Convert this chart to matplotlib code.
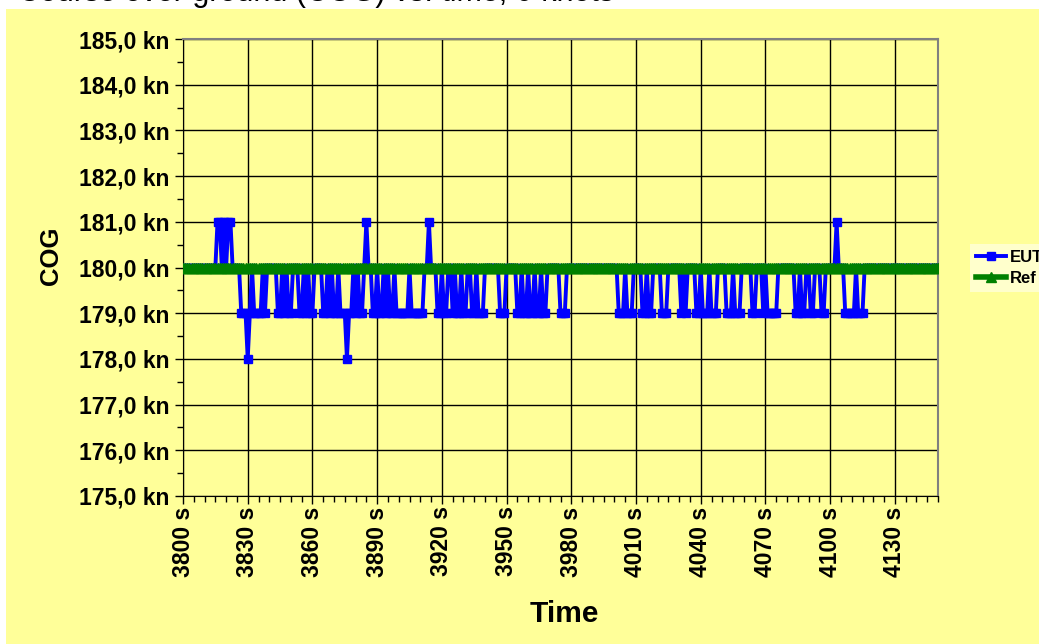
import numpy as np
import matplotlib
matplotlib.use("Agg")
import matplotlib.pyplot as plt
from matplotlib.patches import Rectangle
from matplotlib.ticker import MultipleLocator, FixedLocator, FixedFormatter

plt.rcParams['font.family'] = ['Liberation Sans', 'DejaVu Sans']

# Course over ground, one sample per second from 3800 s
time_start = 3800
eut_cog = [
    180, 180, 180, 180, 180, 180, 180, 180, 180, 180, 180, 180, 180, 180, 180, 180, 181, 181, 180, 181, 180, 181, 181, 180, 180,
    180, 180, 179, 179, 179, 178, 179, 180, 179, 179, 179, 179, 180, 179, 180, 180, 180, 180, 180, 179, 179, 180, 179, 180, 179,
    179, 180, 180, 180, 179, 179, 180, 179, 180, 179, 179, 180, 180, 180, 180, 179, 179, 180, 179, 180, 179, 179, 180, 179, 179,
    179, 178, 179, 179, 180, 179, 180, 179, 179, 180, 181, 180, 180, 179, 179, 180, 179, 179, 180, 179, 180, 179, 179, 180, 179,
    179, 179, 179, 179, 179, 180, 179, 179, 179, 179, 179, 179, 180, 180, 181, 180, 180, 180, 179, 179, 180, 179, 179, 180, 180,
    179, 180, 179, 179, 180, 179, 179, 180, 180, 179, 179, 180, 179, 179, 179, 180, 180, 180, 180, 180, 180, 180, 179, 179, 179,
    180, 180, 180, 180, 180, 179, 179, 180, 179, 179, 180, 179, 179, 180, 179, 179, 180, 179, 179, 180, 180, 180, 180, 180, 180,
    179, 179, 179, 180, 180, 180, 180, 180, 180, 180, 180, 180, 180, 180, 180, 180, 180, 180, 180, 180, 180, 180, 180, 180, 180,
    180, 180, 179, 179, 179, 180, 179, 179, 179, 180, 180, 180, 180, 179, 179, 180, 179, 179, 180, 180, 180, 180, 179, 179, 179,
    180, 180, 180, 180, 180, 180, 179, 180, 179, 180, 180, 180, 180, 179, 179, 180, 179, 179, 179, 180, 179, 179, 179, 180, 180,
    180, 180, 179, 179, 179, 180, 179, 179, 179, 180, 180, 180, 180, 180, 179, 179, 180, 180, 180, 179, 180, 179, 179, 179, 179,
    179, 180, 180, 180, 180, 180, 180, 180, 180, 179, 179, 180, 179, 179, 180, 180, 179, 179, 180, 180, 180, 179, 179, 180, 180,
    180, 180, 180, 181, 180, 180, 180, 179, 179, 179, 179, 179, 180, 179, 179, 179, 180, 180, 180, 180, 180, 180, 180, 180, 180,
    180, 180, 180, 180, 180, 180, 180, 180, 180, 180, 180, 180, 180, 180, 180, 180, 180, 180, 180, 180, 180, 180, 180, 180, 180,
    180,
]
ref_value = 180.0

y_ticks = [175, 176, 177, 178, 179, 180, 181, 182, 183, 184, 185]
y_labels = ["175,0 kn", "176,0 kn", "177,0 kn", "178,0 kn", "179,0 kn", "180,0 kn",
            "181,0 kn", "182,0 kn", "183,0 kn", "184,0 kn", "185,0 kn"]
x_ticks = [3800, 3830, 3860, 3890, 3920, 3950, 3980, 4010, 4040, 4070, 4100, 4130]
x_labels = ["%d s" % t for t in x_ticks]

times = time_start + np.arange(len(eut_cog))
ref_cog = np.full(len(eut_cog), ref_value)

W, H = 1039, 644
fig = plt.figure(figsize=(W / 100, H / 100), dpi=100)
fig.patch.set_facecolor("white")

yellow = "#FFFF99"
panel = Rectangle((6 / W, 0), 1 - 6 / W, 1 - 9 / H, transform=fig.transFigure,
                  facecolor=yellow, edgecolor="none", zorder=-10)
fig.patches.append(panel)

# title is cut off by the top edge in the original
fig.text(18 / W, 1 - 1.5 / H, "Course over ground (COG) vs. time, 0 knots", fontsize=22,
         ha="left", va="baseline", color="black", zorder=-5)

ax = fig.add_axes([183 / W, 1 - 496 / H, (938 - 183) / W, (496 - 39) / H])
ax.set_facecolor(yellow)

ax.plot(times, eut_cog, color="#0000FF", lw=2.8, marker="s", ms=5.5, label="EUT", zorder=3)
ax.plot(times, ref_cog, color="#008000", lw=4, marker="^", ms=7, label="Ref", zorder=4)

ax.set_xlim(3800, 4150)
ax.set_ylim(175, 185)

ax.xaxis.set_major_locator(FixedLocator(x_ticks))
ax.xaxis.set_major_formatter(FixedFormatter(x_labels))
ax.xaxis.set_minor_locator(MultipleLocator(5))
ax.yaxis.set_major_locator(FixedLocator(y_ticks))
ax.yaxis.set_major_formatter(FixedFormatter(y_labels))
ax.yaxis.set_minor_locator(MultipleLocator(0.5))

ax.grid(True, which="major", color="black", lw=1)
ax.set_axisbelow(True)

ax.tick_params(axis="both", which="major", direction="out", length=6, width=1, labelsize=16.5)
ax.tick_params(axis="both", which="minor", direction="out", length=4, width=1)
ax.tick_params(axis="x", labelrotation=90, pad=1.5)
for lab in ax.get_xticklabels() + ax.get_yticklabels():
    lab.set_fontweight("bold")

for s in ["left", "bottom"]:
    ax.spines[s].set_color("black")
for s in ["top", "right"]:
    ax.spines[s].set_color("#808080")
    ax.spines[s].set_linewidth(1.5)

ax.set_ylabel("COG", fontsize=18.5, fontweight="bold")
ax.yaxis.set_label_coords(-0.159, 0.525)
ax.set_xlabel("Time", fontsize=21.5, fontweight="bold")
ax.xaxis.set_label_coords(0.505, -0.228)

leg = fig.legend(loc="upper left", bbox_to_anchor=(962 / W, 1 - 236 / H), frameon=True,
                 prop={"weight": "bold", "size": 12}, handlelength=1.8, borderpad=0.35,
                 labelspacing=0.35, handletextpad=0.25, fancybox=False)
leg.get_frame().set_facecolor("#FFFFCC")
leg.get_frame().set_edgecolor("none")
leg.get_frame().set_alpha(1)

fig.savefig("out.png", dpi=100, facecolor=fig.get_facecolor())
